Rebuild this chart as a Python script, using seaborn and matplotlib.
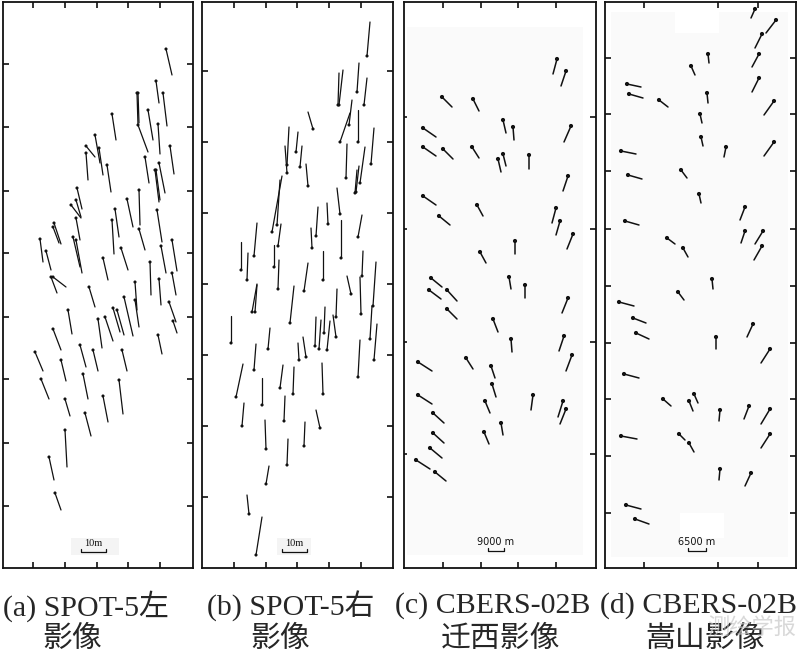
import numpy as np
import pandas as pd
import matplotlib
matplotlib.use("Agg")
import matplotlib.pyplot as plt
from matplotlib.patches import Rectangle
import seaborn as sns

# residual vectors: dot position (image px) and offset (px)
# (a) SPOT-5 left image
a_x = [166, 156, 163, 137, 138, 112, 148, 158, 138, 95,
       86, 86, 99, 107, 145, 170, 159, 155, 156, 139,
       127, 115, 112, 77, 76, 71, 76, 76, 73, 54,
       53, 40, 46, 157, 139, 161, 172, 121, 103, 150,
       51, 53, 159, 172, 135, 135, 89, 68, 53, 98,
       105, 113, 117, 124, 169, 173, 158, 35, 61, 80,
       93, 122, 41, 83, 119, 65, 103, 85, 65, 49,
       55]
a_y = [49, 81, 93, 93, 93, 114, 110, 124, 125, 135,
       146, 153, 148, 165, 157, 146, 163, 170, 170, 190,
       199, 209, 220, 188, 200, 205, 218, 240, 237, 223,
       227, 239, 251, 210, 229, 246, 240, 248, 258, 262,
       277, 277, 279, 273, 282, 300, 287, 310, 329, 319,
       317, 308, 310, 297, 302, 321, 335, 352, 360, 345,
       350, 350, 379, 374, 380, 399, 396, 413, 430, 457,
       493]
a_dx = [6, 3, 4, 1, 1, 4, 5, 2, 10, 5,
        9, 2, 4, 4, 4, 4, 6, 4, 4, 1,
        6, 4, 2, 5, 5, 10, 4, 6, 7, 7,
        6, 3, 5, 5, 6, 5, 5, 7, 5, 1,
        6, 13, 2, 4, 2, 4, 6, 4, 8, 4,
        8, 7, 7, 9, 7, 4, 4, 8, 5, 6,
        5, 5, 8, 5, 4, 5, 5, 6, 2, 5,
        6]
a_dy = [26, 22, 33, 32, 30, 26, 30, 30, 27, 28,
        11, 27, 27, 27, 26, 28, 30, 32, 30, 35,
        28, 28, 34, 21, 17, 13, 22, 33, 30, 21,
        16, 23, 19, 32, 21, 27, 31, 22, 22, 33,
        16, 10, 26, 22, 28, 27, 20, 24, 21, 29,
        24, 24, 25, 39, 20, 12, 19, 19, 21, 22,
        21, 21, 20, 25, 34, 17, 26, 23, 37, 23,
        17]

# (b) SPOT-5 right image
b_x = [367, 357, 364, 338, 339, 313, 349, 340, 358, 371,
       346, 360, 355, 356, 296, 300, 287, 287, 308, 340,
       328, 358, 316, 312, 341, 272, 277, 278, 274, 254,
       241, 247, 323, 362, 373, 278, 304, 351, 361, 252,
       290, 336, 324, 315, 319, 327, 336, 370, 374, 231,
       268, 299, 306, 254, 358, 236, 262, 280, 293, 323,
       242, 284, 320, 266, 304, 287, 266, 249, 256, 255]
b_y = [56, 92, 105, 105, 105, 129, 125, 142, 142, 164,
       178, 183, 193, 192, 152, 167, 165, 173, 186, 214,
       224, 237, 236, 248, 258, 232, 225, 246, 267, 256,
       270, 280, 280, 276, 306, 289, 291, 294, 314, 312,
       323, 317, 333, 346, 349, 350, 337, 339, 360, 343,
       349, 360, 357, 370, 377, 397, 405, 388, 394, 394,
       426, 421, 428, 449, 446, 465, 484, 514, 555, 312]
b_dx = [3, 2, 3, 1, 4, -5, 3, 10, 0, 3,
        1, 5, 2, 3, 2, 2, 2, -2, -2, -3,
        -1, 4, 2, -1, 0, 10, 3, 3, 0, 3,
        0, 1, 0, 1, 3, 1, 4, -4, -1, 5,
        4, 1, 1, 1, 2, 3, -3, 2, 3, 0,
        2, -1, -3, 2, 2, 7, 0, 3, 1, -1,
        2, 1, -4, -1, 1, 1, 3, -2, 6, 2]
b_dy = [-34, -29, -27, -32, -35, -17, -25, -29, -32, -36,
        -34, -36, -23, -26, -20, -21, -38, -27, -22, -26,
        -21, -22, -29, -20, -38, -56, -45, -22, -22, -33,
        -28, -27, -29, -25, -44, -29, -28, -18, -37, -28,
        -37, -28, -26, -29, -29, -29, -22, -33, -36, -27,
        -21, -17, -20, -26, -37, -33, -27, -23, -27, -31,
        -23, -25, -18, -29, -24, -26, -18, -19, -38, -27]

# (c) CBERS-02B Qianxi
c_x = [557, 566, 442, 473, 423, 503, 513, 571, 423, 443,
       472, 498, 503, 529, 568, 423, 477, 439, 556, 560,
       573, 515, 480, 431, 509, 525, 429, 447, 568, 447,
       493, 511, 564, 572, 418, 466, 491, 492, 418, 533,
       563, 566, 485, 433, 501, 433, 484, 430, 416, 435]
c_y = [59, 71, 97, 99, 128, 120, 127, 126, 147, 149,
       147, 159, 154, 155, 176, 196, 205, 216, 208, 221,
       234, 241, 252, 278, 277, 285, 290, 290, 298, 309,
       319, 339, 336, 355, 362, 358, 366, 384, 395, 395,
       401, 409, 401, 413, 423, 433, 432, 448, 460, 472]
c_dx = [-4, -5, 10, 6, 13, 3, 1, -7, 13, 10,
        7, 3, 3, 0, -5, 13, 6, 11, -4, -4,
        -6, 0, 6, 11, 2, 0, 12, 10, -6, 10,
        5, 1, -5, -6, 14, 7, 4, 4, 14, -2,
        -5, -6, 5, 11, 2, 11, 5, 12, 14, 11]
c_dy = [15, 15, 10, 12, 9, 13, 13, 16, 9, 10,
        11, 13, 12, 14, 15, 9, 11, 9, 15, 14,
        15, 13, 11, 9, 12, 13, 9, 11, 15, 10,
        13, 13, 15, 16, 9, 11, 12, 13, 9, 15,
        16, 15, 12, 10, 12, 10, 12, 10, 9, 9]

# (d) CBERS-02B Songshan
d_x = [755, 776, 762, 759, 759, 774, 774, 708, 691, 627,
       629, 659, 707, 700, 701, 726, 621, 628, 681, 699,
       745, 625, 745, 763, 762, 667, 683, 712, 678, 619,
       633, 636, 753, 716, 770, 624, 663, 689, 694, 720,
       749, 770, 621, 679, 689, 770, 720, 751, 626, 635]
d_y = [9, 20, 34, 54, 78, 101, 142, 54, 66, 84,
       94, 100, 93, 114, 137, 147, 151, 175, 170, 194,
       207, 221, 231, 231, 246, 238, 248, 279, 292, 302,
       318, 333, 324, 337, 349, 374, 399, 401, 394, 410,
       406, 409, 436, 434, 443, 434, 469, 473, 505, 519]
d_dx = [-4, -10, -7, -7, -7, -10, -10, 1, 4, 14,
        14, 9, 1, 2, 2, -2, 15, 14, 6, 2,
        -5, 14, -4, -8, -8, 8, 5, 1, 6, 15,
        13, 13, -6, 0, -9, 15, 8, 4, 4, -1,
        -5, -9, 16, 6, 5, -9, -1, -6, 15, 14]
d_dy = [9, 13, 14, 13, 14, 14, 14, 9, 9, 3,
        4, 7, 10, 9, 9, 10, 3, 4, 8, 9,
        13, 4, 12, 13, 14, 6, 9, 10, 8, 4,
        5, 6, 13, 12, 14, 4, 7, 10, 9, 11,
        13, 15, 3, 6, 9, 14, 11, 13, 4, 5]

captions = [("(a) SPOT-5左", "影像"), ("(b) SPOT-5右", "影像"),
            ("(c) CBERS-02B", "迁西影像"), ("(d) CBERS-02B", "嵩山影像")]
scale_labels = ["10m", "10m", "9000 m", "6500 m"]

sns.set_style("ticks")
plt.rcParams["font.family"] = ["Liberation Serif", "Noto Sans CJK SC"]

W, H = 800, 658
fig = plt.figure(figsize=(W / 100, H / 100), dpi=100)
ink = "#111111"


def make_panel(l, t, r, b):
    ax = fig.add_axes([l / W, 1 - b / H, (r - l) / W, (b - t) / H])
    return ax, (l, r, b, t)


def draw_vectors(ax, x, y, dx, dy, lw, s):
    n = len(x)
    seg = pd.DataFrame({
        "id": np.repeat(np.arange(n), 2),
        "x": np.column_stack([x, np.add(x, dx)]).ravel(),
        "y": np.column_stack([y, np.add(y, dy)]).ravel(),
    })
    sns.lineplot(data=seg, x="x", y="y", units="id", estimator=None,
                 sort=False, color=ink, lw=lw, ax=ax, legend=False)
    sns.scatterplot(x=x, y=y, s=s, color=ink, edgecolor="none",
                    ax=ax, legend=False, zorder=3)


def style(ax, lims, xt, yt, tick_len=4.0):
    l, r, b, t = lims
    ax.set_xlim(l, r)
    ax.set_ylim(b, t)
    ax.set_xticks(xt)
    ax.set_yticks(yt)
    ax.set_xlabel("")
    ax.set_ylabel("")
    ax.tick_params(direction="in", length=tick_len, width=1.2, color=ink,
                   top=True, right=True, labelbottom=False, labelleft=False)
    for sp in ax.spines.values():
        sp.set_visible(True)
        sp.set_linewidth(1.3)
        sp.set_color(ink)


def scale_bar(ax, x0, x1, y, label, ty, font, size):
    ax.plot([x0, x0, x1, x1], [y - 3, y, y, y - 3], color=ink, lw=0.9)
    ax.text((x0 + x1) / 2, ty, label, ha="center", va="center",
            fontsize=size, family=font, color=ink)


# (a)
ax, lims = make_panel(3, 2, 193, 568)
ax.add_patch(Rectangle((71, 538), 48, 17, color="#f4f4f4", lw=0))
draw_vectors(ax, a_x, a_y, a_dx, a_dy, 0.9, 5)
scale_bar(ax, 81, 106, 552, scale_labels[0], 544, "Liberation Serif", 7.5)
style(ax, lims, [33, 65, 97, 128, 160], [64, 127, 191, 253, 317, 379, 443, 506])

# (b)
ax, lims = make_panel(202, 2, 393, 568)
ax.add_patch(Rectangle((277, 538), 34, 17, color="#f4f4f4", lw=0))
draw_vectors(ax, b_x, b_y, b_dx, b_dy, 0.9, 5)
scale_bar(ax, 282, 307, 552, scale_labels[1], 544, "Liberation Serif", 7.5)
style(ax, lims, [234, 266, 297, 329, 361], [71, 142, 213, 284, 355, 426, 497])

# (c)
ax, lims = make_panel(404, 2, 596, 568)
ax.add_patch(Rectangle((407, 27), 176, 528, color="#fafafa", lw=0))
draw_vectors(ax, c_x, c_y, c_dx, c_dy, 1.1, 9)
scale_bar(ax, 488, 504, 551, scale_labels[2], 542, "DejaVu Sans", 7)
style(ax, lims, [443, 481, 518, 556], [117, 229, 342, 454])

# (d)
ax, lims = make_panel(605, 2, 796, 568)
ax.add_patch(Rectangle((611, 12), 177, 545, color="#fafafa", lw=0))
ax.add_patch(Rectangle((675, 12), 44, 21, color="white", lw=0))
ax.add_patch(Rectangle((680, 513), 44, 25, color="white", lw=0))
draw_vectors(ax, d_x, d_y, d_dx, d_dy, 1.1, 9)
scale_bar(ax, 688, 706, 551, scale_labels[3], 542, "DejaVu Sans", 7)
style(ax, lims, [644, 718, 758], [58, 114, 171, 229, 286, 343, 399, 456, 513])

# captions under the panels
line1_x = [3, 207, 395, 600]
line2_x = [42, 250, 441, 645]
for (top, bottom), x1, x2 in zip(captions, line1_x, line2_x):
    fig.text(x1 / W, 1 - 606 / H, top, fontsize=21.5, va="center", ha="left")
    fig.text(x2 / W, 1 - 639 / H, bottom, fontsize=21.5, va="center", ha="left")

# journal watermark
fig.text(752 / W, 1 - 627 / H, "测绘学报", fontsize=16, color="#c8c8c8",
         alpha=0.7, va="center", ha="center", family=["Noto Sans CJK SC"])

fig.savefig("out.png", dpi=100)
